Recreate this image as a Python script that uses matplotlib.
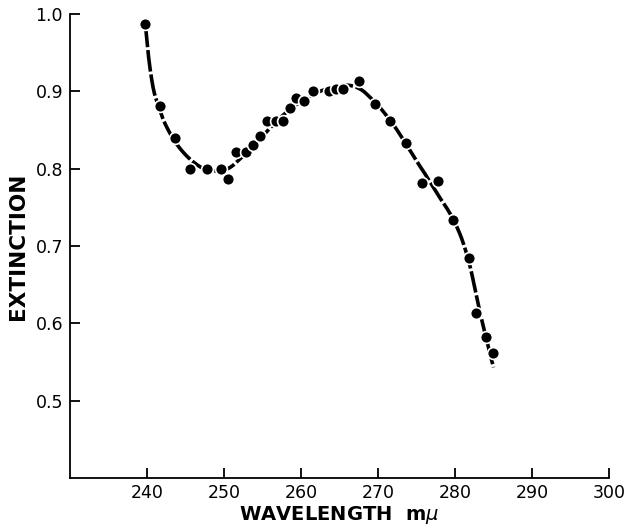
import numpy as np
import matplotlib
matplotlib.use("Agg")
import matplotlib.pyplot as plt

# Measured points
wavelength = [239.7, 241.7, 243.6, 245.6, 247.8, 249.6, 250.5, 251.6, 252.8, 253.8,
              254.7, 255.6, 256.7, 257.7, 258.6, 259.3, 260.4, 261.5, 263.7, 264.6,
              265.4, 267.5, 269.6, 271.6, 273.7, 275.7, 277.8, 279.8, 281.8, 282.7,
              284.0, 284.9]
extinction = [0.987, 0.881, 0.840, 0.799, 0.800, 0.800, 0.787, 0.821, 0.821, 0.831,
              0.842, 0.862, 0.862, 0.862, 0.879, 0.891, 0.888, 0.901, 0.901, 0.903,
              0.903, 0.913, 0.883, 0.862, 0.833, 0.782, 0.784, 0.733, 0.684, 0.613,
              0.582, 0.562]

# Hand-drawn fitted curve
curve_x = [239.8, 240.2, 240.6, 241.0, 241.7, 242.4, 243.7, 245.2, 246.8, 248.0,
           249.0, 250.0, 251.0, 252.0, 253.0, 254.0, 255.0, 256.0, 257.0, 258.0,
           259.0, 260.0, 261.0, 262.0, 263.0, 264.0, 265.0, 266.0, 267.0, 268.0,
           269.0, 270.0, 271.0, 272.0, 273.0, 274.0, 275.0, 276.0, 277.0, 278.0,
           279.0, 280.0, 281.0, 282.0, 283.0, 284.0, 285.0]
curve_y = [0.985, 0.945, 0.916, 0.896, 0.875, 0.857, 0.834, 0.816, 0.803, 0.798,
           0.797, 0.798, 0.803, 0.812, 0.821, 0.831, 0.842, 0.853, 0.863, 0.872,
           0.880, 0.887, 0.893, 0.898, 0.902, 0.905, 0.907, 0.908, 0.906, 0.901,
           0.892, 0.882, 0.870, 0.857, 0.842, 0.826, 0.810, 0.795, 0.779, 0.763,
           0.748, 0.730, 0.706, 0.672, 0.625, 0.583, 0.543]

x_ticks = [240, 250, 260, 270, 280, 290, 300]
y_ticks = [0.5, 0.6, 0.7, 0.8, 0.9, 1.0]


def catmull_rom(xs, ys, n=8):
    p = np.column_stack([xs, ys])
    p = np.vstack([p[0], p, p[-1]])
    out = []
    t = np.linspace(0, 1, n, endpoint=False)[:, None]
    for i in range(1, len(p) - 2):
        p0, p1, p2, p3 = p[i - 1], p[i], p[i + 1], p[i + 2]
        seg = 0.5 * ((2 * p1) + (-p0 + p2) * t + (2 * p0 - 5 * p1 + 4 * p2 - p3) * t ** 2
                     + (-p0 + 3 * p1 - 3 * p2 + p3) * t ** 3)
        out.append(seg)
    out.append(p[-2][None, :])
    out = np.vstack(out)
    return out[:, 0], out[:, 1]


fig = plt.figure(figsize=(6.33, 5.29), dpi=100)
ax = fig.add_axes([0.1106, 0.0964, 0.962 - 0.1106, 0.9735 - 0.0964])

cx, cy = catmull_rom(curve_x, curve_y)
ax.plot(cx, cy, color="black", lw=2.6, linestyle=(0, (6, 0.8)), solid_capstyle="butt",
        dash_capstyle="butt", zorder=2)
ax.plot(wavelength, extinction, linestyle="none", marker="o", ms=8.5, mfc="black",
        mec="white", mew=1.2, zorder=3)

ax.set_xlim(230, 300)
ax.set_ylim(0.4, 1.0)
ax.set_xticks(x_ticks)
ax.set_xticklabels([str(v) for v in x_ticks])
ax.set_yticks(y_ticks)
ax.set_yticklabels([f"{v:.1f}" for v in y_ticks])

for s in ["top", "right"]:
    ax.spines[s].set_visible(False)
for s in ["left", "bottom"]:
    ax.spines[s].set_linewidth(1.3)

ax.tick_params(axis="both", direction="in", length=7, width=1.3, labelsize=12.5)
ax.tick_params(axis="y", pad=5)
ax.tick_params(axis="x", pad=4)

ax.set_xlabel(r"WAVELENGTH  m$\mu$", fontsize=14, fontweight="bold", labelpad=2)
ax.set_ylabel("EXTINCTION", fontsize=15.5, fontweight="bold", labelpad=5)

fig.savefig("out.png", dpi=100)
